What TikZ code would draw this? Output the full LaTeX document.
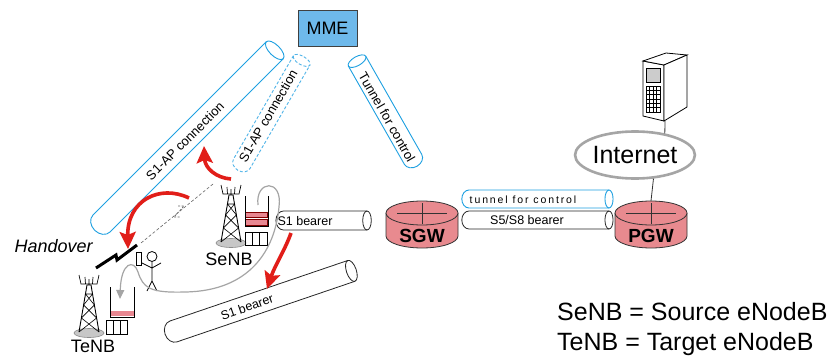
\documentclass[tikz,border=0pt]{standalone}
\usepackage{fontspec}
\setmainfont{Liberation Sans}
\usetikzlibrary{arrows.meta,shapes.geometric}

\definecolor{tubeblue}{RGB}{30,160,225}
\definecolor{dashblue}{RGB}{80,180,232}
\definecolor{mmeblue}{RGB}{110,185,235}
\definecolor{gwpink}{RGB}{232,138,143}
\definecolor{barpink}{RGB}{232,135,145}
\definecolor{arrowred}{RGB}{225,30,25}
\definecolor{curvegrey}{RGB}{165,165,165}

\newcommand\fsz[1]{\fontsize{#1}{#1}\selectfont}

% tube: style, rounded end point, angle, length, radius
\newcommand\pipe[5]{%
  \begin{scope}[shift={#2}, rotate=#3]
    \draw[#1] (#4,-#5) -- (#5,-#5)
      arc[start angle=270, end angle=90, x radius=0.8*#5, y radius=#5] -- (#4,#5);
    \draw[#1] (#4,0) ellipse[x radius=0.45*#5, y radius=#5];
  \end{scope}}

% gateway cylinder: name, centre x, label
\newcommand\gateway[3]{%
  \fill[gwpink] (#2-36,213) -- (#2-36,236)
    arc[start angle=180, end angle=0, x radius=36, y radius=12] -- (#2+36,213) -- cycle;
  \draw[black!80, line width=0.8pt] (#2-36,213) -- (#2-36,236)
    arc[start angle=180, end angle=0, x radius=36, y radius=12] -- (#2+36,213);
  \filldraw[fill=gwpink, draw=black!80, line width=0.8pt] (#2,213) ellipse[x radius=36, y radius=12];
  \draw[black!80, line width=0.7pt] (#2-25,213) -- (#2+25,213) (#2,203) -- (#2,224);
  \node[font=\fsz{19}\bfseries, anchor=base] (#1) at (#2,242) {#3};}

\tikzset{
  tubeline/.style={draw=tubeblue, line width=0.9pt},
  tubedash/.style={draw=dashblue, line width=0.9pt, dash pattern=on 3pt off 2pt},
  tubeblack/.style={draw=black!85, line width=0.8pt},
  redarrow/.style={draw=arrowred, line width=3.6pt,
    -{Stealth[length=17pt, width=16pt, inset=3pt]}},
  greyarrow/.style={draw=curvegrey, line width=1.2pt,
    -{Triangle[length=9pt, width=8pt]}},
  mast/.pic={
    \filldraw[fill=black!22, draw=black!45, line width=0.6pt] (0,0) ellipse[x radius=15, y radius=4.5];
    \draw[line width=0.9pt] (-10,-1) -- (-2,-48) (10,-1) -- (2,-48);
    \draw[line width=0.6pt] (-10,-1) -- (7.6,-15) (10,-1) -- (-7.6,-15)
       (-7.6,-15) -- (5.4,-28) (7.6,-15) -- (-5.4,-28)
       (-5.4,-28) -- (3.5,-39) (5.4,-28) -- (-3.5,-39)
       (-3.5,-39) -- (3.5,-39) (-2,-48) -- (2,-48);
    \draw[line width=0.7pt] (-10,-58) -- (-8,-49) -- (8,-49) -- (10,-58)
       (-4,-56) -- (-3.5,-49) (4,-56) -- (3.5,-49) (0,-54) -- (0,-48);
  }
}

\begin{document}
\begin{tikzpicture}[x=1pt, y=-1pt, font=\fsz{13}]
\useasboundingbox (0,0) rectangle (832,356);
\fill[white] (0,0) rectangle (832,356);

% MME
\node[draw=black!75, line width=0.8pt, fill=mmeblue, minimum width=59pt,
      minimum height=36pt, inner sep=0pt, font=\fsz{18}] (mme) at (327.5,28.5) {MME};

% S1-AP tubes and the control tunnel towards the SGW
\pipe{tubeline}{(93,232)}{45}{257}{12}
\node[rotate=45] (s1apold) at (185,141) {S1-AP connection};
\pipe{tubedash}{(237,172)}{59.9}{129}{9.5}
\node[rotate=60] (s1apnew) at (268,116) {S1-AP connection};
\pipe{tubeline}{(418,168)}{119.7}{123}{10}
\node[rotate=-60.3] (ctrl) at (387,117) {Tunnel for control};

% bearers
\pipe{tubeblack}{(274,220.5)}{0}{93}{9.5}
\node[font=\fsz{12.5}] (s1old) at (305,221) {S1 bearer};
\pipe{tubeblack}{(163,335)}{18.8}{199}{11}
\node[rotate=19, font=\fsz{12.5}] (s1new) at (247,307) {S1 bearer};
\pipe{tubeline}{(460,199)}{0}{149}{9}
\node[font=\fsz{10.5}\addfontfeature{LetterSpace=18}] (ctrl2) at (523,199.5) {tunnel for control};
\pipe{tubeblack}{(460,220)}{0}{149}{9}
\node[font=\fsz{12.5}] (s5) at (527,220.5) {S5/S8 bearer};

% gateways
\gateway{sgw}{422}{SGW}
\gateway{pgw}{651}{PGW}

% Internet and server
\node[ellipse, draw=curvegrey, line width=2.6pt, minimum width=104pt, minimum height=47pt,
      inner sep=0pt, font=\fsz{25}] (internet) at (635,155) {Internet};
\begin{scope}[line width=0.8pt]
  \filldraw[fill=white] (643,61) -- (664,65) -- (664,121) -- (643,116) -- cycle;
  \filldraw[fill=white] (643,61) -- (666,53) -- (687,55) -- (664,65) -- cycle;
  \filldraw[fill=white] (664,65) -- (687,55) -- (687,107) -- (664,121) -- cycle;
  \filldraw[fill=black!20, line width=0.6pt] (646,68) rectangle (660,82);
  \draw[line width=0.6pt] (646,86) rectangle (660,112);
  \foreach \gx in {649.5,653,656.5} \draw[line width=0.5pt] (\gx,86) -- (\gx,112);
  \foreach \gy in {90.3,94.7,99,103.3,107.7} \draw[line width=0.5pt] (646,\gy) -- (660,\gy);
\end{scope}
\coordinate (srvbot) at (665,121);
\coordinate (pgwtop) at (651,201);
\draw[black!80, line width=0.8pt] (srvbot) -- (internet.36);
\draw[black!80, line width=0.8pt] (internet.-52) -- (pgwtop);

% base stations
\pic at (231,243) {mast};
\pic at (89,333) {mast};
\node[font=\fsz{18}, anchor=base] (senb) at (229,265) {SeNB};
\node[font=\fsz{18}, anchor=base] (tenb) at (93,352.5) {TeNB};

% source buffer
\fill[barpink] (245.5,212) rectangle (267.5,217.5);
\fill[barpink] (245.5,219.5) rectangle (267.5,225);
\draw[red!50!black, line width=0.5pt] (245.5,212) rectangle (267.5,217.5) (245.5,219.5) rectangle (267.5,225);
\draw[line width=0.9pt] (245,196) -- (245,226) -- (268,226) -- (268,196);
\draw[line width=0.8pt] (245,232) rectangle (267,245) (252.3,232) -- (252.3,245) (259.7,232) -- (259.7,245);

% target buffer
\fill[barpink] (110.5,311) rectangle (133.5,316);
\draw[line width=0.9pt] (110,287) -- (110,317) -- (134,317) -- (134,287);
\draw[line width=0.8pt] (106,320) rectangle (127,334) (113,320) -- (113,334) (120,320) -- (120,334);

% user equipment
\draw[line width=0.8pt] (136,252) rectangle (141.5,265);
\draw[line width=0.8pt] (152,256.5) circle[radius=5];
\draw[line width=0.8pt] (152,261.5) -- (152,281) (142,263) -- (152,268) -- (161,263)
  (147,291) -- (152,281) -- (157,291);

% radio link to the source and handover bolt
\coordinate (senbant) at (213,184);
\coordinate (ue) at (141,243);
\draw[black!60, line width=0.6pt, dash pattern=on 3pt off 2pt] (senbant) -- (ue);
\draw[black!60, line width=0.6pt, dash pattern=on 2pt off 1.5pt] (178,206) -- (184,206) -- (174,217) -- (180,217);
\draw[line width=3pt, line join=miter] (96,268) -- (116,255) -- (117,260) -- (137,245);
\node[font=\fsz{18}\itshape, anchor=base west] (ho) at (11,252) {Handover};

% data path from source buffer to target buffer
\coordinate (sbuf) at (258,205);
\coordinate (tbuf) at (120,299);
\draw[greyarrow] (sbuf) .. controls (255,180) and (283,178) .. (279,207)
  .. controls (275,250) and (250,291) .. (185,292)
  .. controls (150,293) and (143,288) .. (138,272)
  .. controls (134,259) and (121,262) .. (tbuf);

% red transfer arrows
\coordinate (a1s) at (231,179);
\coordinate (a1e) at (204,146);
\coordinate (a2s) at (189,198);
\coordinate (a2e) at (128,249);
\coordinate (a3s) at (291,233);
\coordinate (a3e) at (267,289);
\draw[redarrow] (a1s) .. controls (216,178) and (205,168) .. (a1e);
\draw[redarrow] (a2s) .. controls (160,184) and (127,200) .. (a2e);
\draw[redarrow] (a3s) .. controls (285,250) and (275,265) .. (a3e);

% legend
\node[font=\fsz{25}, anchor=base west, inner sep=0pt] (leg1) at (557,320) {SeNB = Source eNodeB};
\node[font=\fsz{25}, anchor=base west, inner sep=0pt] (leg2) at (557,350) {TeNB = Target eNodeB};
\end{tikzpicture}
\end{document}
